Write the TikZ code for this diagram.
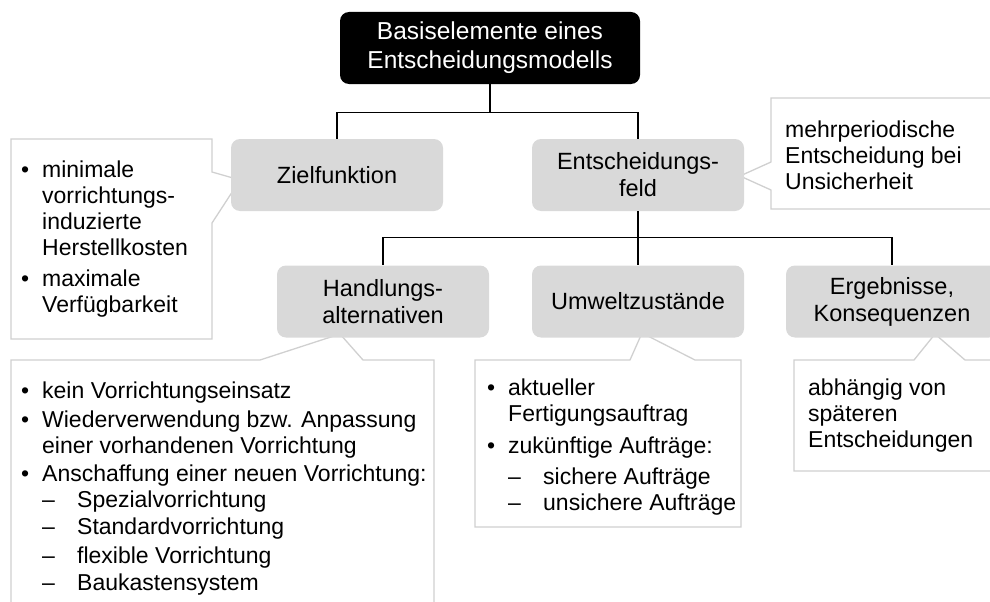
\documentclass[tikz,border=0pt]{standalone}
\usepackage{fontspec}
\setmainfont{Liberation Sans}
\usepackage{tikz}
\usepackage{xcolor}

\definecolor{boxgray}{HTML}{D9D9D9}
\definecolor{framegray}{HTML}{D0D0D0}

\newcommand{\blt}{\makebox[21pt][l]{\textbullet}}
\newcommand{\cont}{\hspace*{21pt}}
\newcommand{\dsh}{\hspace*{21pt}\makebox[35pt][l]{--}}

\begin{document}
\begin{tikzpicture}[x=1pt,y=-1pt,
  topic/.style={rounded corners=9pt,fill=boxgray,minimum width=212pt,minimum height=72pt,
    align=center,inner sep=2pt,font=\fontsize{23.5}{27}\selectfont},
  root/.style={topic,fill=black,text=white,minimum width=300pt,font=\fontsize{24.5}{29}\selectfont},
  note/.style={inner sep=0pt,anchor=north west,align=left,font=\fontsize{23}{26}\selectfont},
  bubble/.style={draw=framegray,line width=1.3pt,fill=white,line join=miter},
  tree/.style={draw=black,line width=1.3pt}]
\useasboundingbox (0,0) rectangle (990,602);
\clip (0,0) rectangle (990,602);

\draw[bubble] (11,139) -- (212,139) -- (212,172) -- (240,180) -- (212,223) -- (212,339) -- (11,339) -- cycle;
\draw[bubble] (771,98) -- (1000,98) -- (1000,209) -- (771,209) -- (771,190) -- (740,176) -- (771,162) -- cycle;
\draw[bubble] (11,360) -- (260,360) -- (340,334) -- (363,360) -- (434,360) -- (434,620) -- (11,620) -- cycle;
\draw[bubble] (475,360) -- (630,360) -- (642,333) -- (695,360) -- (741,360) -- (741,527) -- (475,527) -- cycle;
\draw[bubble] (794,360) -- (914,360) -- (935,334) -- (965,360) -- (1010,360) -- (1010,471) -- (794,471) -- cycle;

\node[root] (basis) at (490,48) {Basiselemente eines\\Entscheidungsmodells};
\node[topic] (ziel) at (337,175) {Zielfunktion};
\node[topic] (feld) at (638,175) {Entscheidungs-\\feld};
\node[topic] (handlung) at (383,301.5) {Handlungs-\\alternativen};
\node[topic] (umwelt) at (638,301.5) {Umweltzustände};
\node[topic] (ergebnis) at (892,301.5) {Ergebnisse,\\Konsequenzen};

\draw[tree] (basis.south) -- ++(0,28) -| (ziel.north);
\draw[tree] (basis.south) -- ++(0,28) -| (feld.north);
\draw[tree] (feld.south) -- ++(0,26) -| (handlung.north);
\draw[tree] (feld.south) -- (umwelt.north);
\draw[tree] (feld.south) -- ++(0,26) -| (ergebnis.north);

\node[note] (zieltext) at (21,159.5) {\strut\blt minimale\\\cont vorrichtungs-\\\cont induzierte\\\cont Herstellkosten\\[5pt]\blt maximale\\\cont Verfügbarkeit};
\node[note] (feldtext) at (785,119) {\strut mehrperiodische\\Entscheidung bei\\Unsicherheit};
\node[note] (handlungtext) at (21,380) {\strut\blt kein Vorrichtungseinsatz\\[3pt]\blt Wiederverwendung bzw. Anpassung\\\cont einer vorhandenen Vorrichtung\\[2pt]\blt Anschaffung einer neuen Vorrichtung:\\\dsh Spezialvorrichtung\\[1pt]\dsh Standardvorrichtung\\[3pt]\dsh flexible Vorrichtung\\[1pt]\dsh Baukastensystem};
\node[note] (umwelttext) at (487,377.5) {\strut\blt aktueller\\\cont Fertigungsauftrag\\[6pt]\blt zukünftige Aufträge:\\[5pt]\dsh sichere Aufträge\\\dsh unsichere Aufträge};
\node[note] (ergebnistext) at (808,377.5) {\strut abhängig von\\späteren\\Entscheidungen};
\end{tikzpicture}
\end{document}
